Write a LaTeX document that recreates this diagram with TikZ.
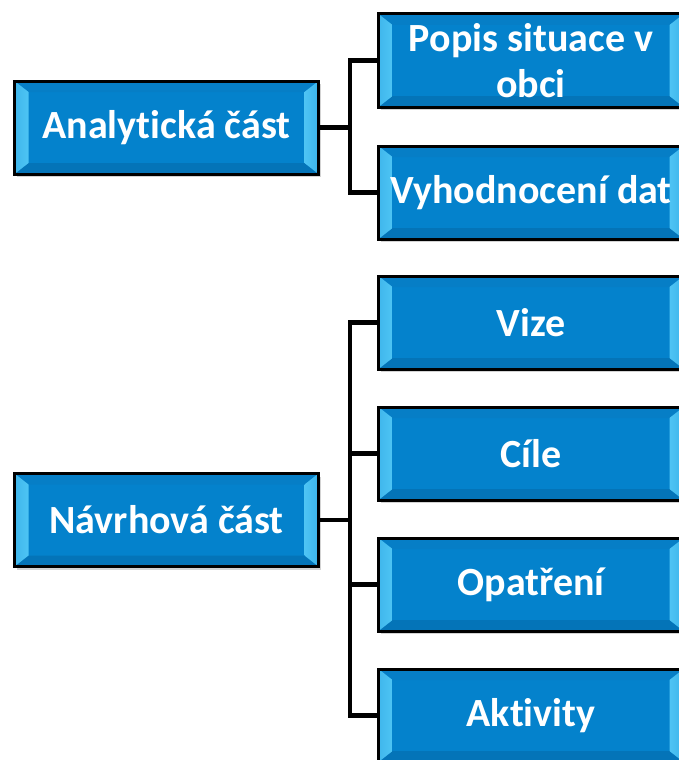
\documentclass[tikz,border=0pt]{standalone}
\usepackage{fontspec}
\setmainfont{Carlito}[Ligatures=NoCommon]
\usetikzlibrary{shadows}

\definecolor{boxblue}{RGB}{4,130,204}
\definecolor{bevlight}{RGB}{78,196,244}
\definecolor{bevtop}{RGB}{6,126,198}
\definecolor{bevbot}{RGB}{4,116,184}

\tikzset{
  part/.style={draw=black, line width=3pt, fill=boxblue, text=white,
    font=\fontsize{40}{46}\selectfont\bfseries, align=center, inner sep=0pt,
    minimum height=93pt,
    drop shadow={shadow xshift=2pt, shadow yshift=-3pt, opacity=.35},
    path picture={
      \coordinate (pNW) at (path picture bounding box.north west);
      \coordinate (pNE) at (path picture bounding box.north east);
      \coordinate (pSW) at (path picture bounding box.south west);
      \coordinate (pSE) at (path picture bounding box.south east);
      \fill[bevtop] (pNW) -- (pNE) -- ([shift={(-14pt,-11pt)}]pNE) -- ([shift={(14pt,-11pt)}]pNW) -- cycle;
      \fill[bevbot] (pSW) -- (pSE) -- ([shift={(-14pt,11pt)}]pSE) -- ([shift={(14pt,11pt)}]pSW) -- cycle;
      \shade[left color=bevlight!80!boxblue, right color=bevlight] (pNW) -- (pSW) -- ([shift={(14pt,11pt)}]pSW) -- ([shift={(14pt,-11pt)}]pNW) -- cycle;
      \shade[left color=bevlight, right color=bevlight!75!boxblue] (pNE) -- (pSE) -- ([shift={(-14pt,11pt)}]pSE) -- ([shift={(-14pt,-11pt)}]pNE) -- cycle;
    }},
  leftpart/.style={part, minimum width=304pt},
  rightpart/.style={part, minimum width=305pt},
  conn/.style={line width=4.5pt},
}

\begin{document}
\begin{tikzpicture}[x=1pt, y=-1pt]
  \useasboundingbox (0,0) rectangle (679,760);

  % Analytical part
  \node[leftpart] (ana) at (166.5,127.5) {Analytická část};
  \node[rightpart] (popis) at (531,60.5) {Popis situace v\\obci};
  \node[rightpart] (vyh) at (531,192.5) {Vyhodnocení dat};

  % Proposal part
  \node[leftpart] (navr) at (166.5,520) {Návrhová část};
  \node[rightpart] (vize) at (531,322.5) {Vize};
  \node[rightpart] (cile) at (531,453.5) {Cíle};
  \node[rightpart] (opatr) at (531,584.5) {Opatření};
  \node[rightpart] (akt) at (531,715.5) {Aktivity};

  % Connectors
  \coordinate (busA) at (350,127.5);
  \coordinate (busN) at (350,520);
  \draw[conn] (ana.east) -- (busA);
  \draw[conn] (popis.west) -- (popis.west -| busA) -- (vyh.west -| busA) -- (vyh.west);

  \draw[conn] (navr.east) -- (busN);
  \draw[conn] (vize.west) -- (vize.west -| busN) -- (akt.west -| busN) -- (akt.west);
  \draw[conn] (cile.west) -- (cile.west -| busN);
  \draw[conn] (opatr.west) -- (opatr.west -| busN);
\end{tikzpicture}
\end{document}
